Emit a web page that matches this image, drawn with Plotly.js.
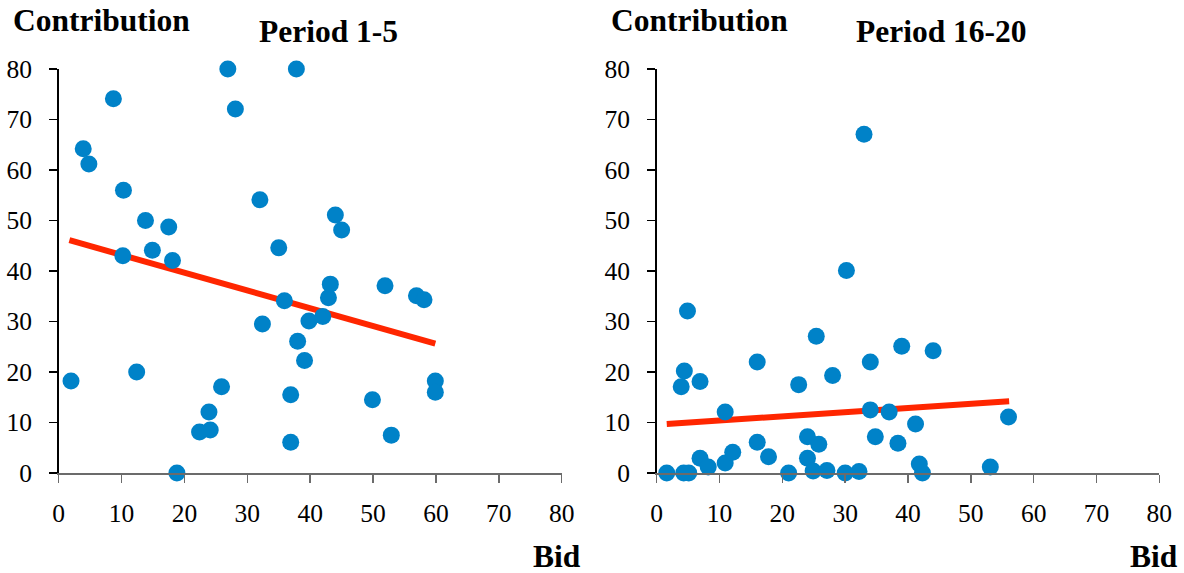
<!DOCTYPE html>
<html>
<head>
<meta charset="utf-8">
<script src="https://cdn.plot.ly/plotly-3.0.1.min.js"></script>
<style>
html,body{margin:0;padding:0;background:#fff;}
#chart{width:1184px;height:573px;}
</style>
</head>
<body>
<div id="chart"></div>
<script>
// Period 1-5 data (Bid, Contribution)
const bid1 = [1.96, 3.9, 4.8, 8.7, 10.3, 10.2, 12.4, 13.8, 14.9, 17.5, 18.1, 18.8, 22.4, 24.1, 23.9, 25.9, 26.9, 28.1, 32.0, 32.4,
              35.0, 35.9, 36.9, 36.9, 37.8, 38.0, 39.1, 39.8, 42.0, 42.9, 43.2, 44.0, 45.0, 49.9, 51.9, 52.9, 56.9, 58.1, 59.9, 59.9];
const contrib1 = [18.2, 64.2, 61.2, 74.1, 56.0, 43.0, 20.0, 50.0, 44.1, 48.7, 42.1, 0, 8.1, 8.5, 12.1, 17.1, 80, 72.1, 54.1, 29.5,
                  44.6, 34.1, 15.5, 6.1, 80, 26.1, 22.3, 30.1, 31.0, 34.7, 37.4, 51.1, 48.1, 14.5, 37.1, 7.5, 35.1, 34.3, 18.2, 16.0];
const fitBid1 = [1.7, 59.9];
const fitContrib1 = [46.1, 25.6];

// Period 16-20 data
const bid2 = [1.6, 3.9, 4.4, 4.3, 4.9, 5.1, 6.9, 6.9, 8.2, 10.9, 10.9, 12.1, 16.0, 16.0, 17.8, 21.0, 22.6, 24.0, 24.0, 24.9,
              25.4, 25.8, 27.1, 28.0, 30.0, 30.2, 32.2, 33.0, 34.0, 34.0, 34.8, 37.0, 38.4, 39.0, 41.2, 41.8, 42.3, 44.0, 53.1, 56.0];
const contrib2 = [0, 17.1, 20.2, 0, 32.1, 0, 18.1, 2.9, 1.2, 12.1, 2.0, 4.1, 22.0, 6.1, 3.2, 0, 17.5, 7.2, 2.9, 0.4,
                  27.1, 5.7, 0.5, 19.3, 0, 40.1, 0.3, 67.1, 22.0, 12.5, 7.2, 12.1, 5.9, 25.1, 9.7, 1.8, 0, 24.2, 1.2, 11.1];
const fitBid2 = [1.6, 56.1];
const fitContrib2 = [9.7, 14.2];

const panelTitles = ['Period 1-5', 'Period 16-20'];
const yTitle = 'Contribution';
const xTitle = 'Bid';
const tickVals = [0, 10, 20, 30, 40, 50, 60, 70, 80];
const tickText = ['0', '10', '20', '30', '40', '50', '60', '70', '80'];

const W = 1184, H = 573;
const FONT = 'Liberation Serif, Times New Roman, DejaVu Serif, serif';
const dotColor = '#0082C8';
const lineColor = '#FF2600';
const TITLE_SIZE = 31.5;
const TICK_SIZE = 25.5;

function px(x) { return x / W; }
function py(y) { return 1 - y / H; }

const traces = [
  {x: fitBid1, y: fitContrib1, xaxis: 'x', yaxis: 'y', mode: 'lines', type: 'scatter',
   line: {color: lineColor, width: 6}, cliponaxis: false, hoverinfo: 'skip'},
  {x: bid1, y: contrib1, xaxis: 'x', yaxis: 'y', mode: 'markers', type: 'scatter',
   marker: {color: dotColor, size: 17}, cliponaxis: false},
  {x: fitBid2, y: fitContrib2, xaxis: 'x2', yaxis: 'y2', mode: 'lines', type: 'scatter',
   line: {color: lineColor, width: 6}, cliponaxis: false, hoverinfo: 'skip'},
  {x: bid2, y: contrib2, xaxis: 'x2', yaxis: 'y2', mode: 'markers', type: 'scatter',
   marker: {color: dotColor, size: 17}, cliponaxis: false}
];

function xAxis(domain, anchor) {
  return {
    domain: domain, anchor: anchor, range: [0, 80], tickvals: tickVals, ticktext: tickText,
    showgrid: false, zeroline: false, showline: true, linecolor: '#6b6b6b', linewidth: 1.5,
    ticks: 'outside', ticklen: 8, tickwidth: 1.5, tickcolor: '#6b6b6b',
    ticklabelstandoff: 9,
    tickfont: {family: FONT, size: TICK_SIZE, color: '#000', weight: 'normal'}, fixedrange: true
  };
}
function yAxis(domain, anchor) {
  return {
    domain: domain, anchor: anchor, range: [0, 80], tickvals: tickVals, ticktext: tickText,
    showgrid: false, zeroline: false, showline: true, linecolor: '#000', linewidth: 1.5,
    ticks: 'outside', ticklen: 8, tickwidth: 1.5, tickcolor: '#000',
    ticklabelstandoff: 12,
    tickfont: {family: FONT, size: TICK_SIZE, color: '#000', weight: 'normal'}, fixedrange: true
  };
}

const yDom = [py(473), py(69)];
const titleFont = {family: FONT, size: TITLE_SIZE, color: '#000'};
const layout = {
  width: W, height: H,
  margin: {l: 0, r: 0, t: 0, b: 0},
  paper_bgcolor: '#fff', plot_bgcolor: 'rgba(0,0,0,0)',
  showlegend: false,
  font: {family: FONT, color: '#000'},
  xaxis: xAxis([px(58.7), px(561.7)], 'y'),
  yaxis: yAxis(yDom, 'x'),
  xaxis2: xAxis([px(656.7), px(1159.3)], 'y2'),
  yaxis2: yAxis(yDom, 'x2'),
  annotations: [
    {text: '<b>' + yTitle + '</b>', xref: 'paper', yref: 'paper', x: px(11), y: py(20), xanchor: 'left', yanchor: 'middle',
     showarrow: false, font: titleFont},
    {text: '<b>' + panelTitles[0] + '</b>', xref: 'paper', yref: 'paper', x: px(328.5), y: py(31), xanchor: 'center', yanchor: 'middle',
     showarrow: false, font: titleFont},
    {text: '<b>' + xTitle + '</b>', xref: 'paper', yref: 'paper', x: px(556.5), y: py(576), xanchor: 'center', yanchor: 'bottom',
     showarrow: false, font: titleFont},
    {text: '<b>' + yTitle + '</b>', xref: 'paper', yref: 'paper', x: px(608.5), y: py(20), xanchor: 'left', yanchor: 'middle',
     showarrow: false, font: titleFont},
    {text: '<b>' + panelTitles[1] + '</b>', xref: 'paper', yref: 'paper', x: px(941.3), y: py(31), xanchor: 'center', yanchor: 'middle',
     showarrow: false, font: titleFont},
    {text: '<b>' + xTitle + '</b>', xref: 'paper', yref: 'paper', x: px(1154), y: py(576), xanchor: 'center', yanchor: 'bottom',
     showarrow: false, font: titleFont}
  ]
};

Plotly.newPlot('chart', traces, layout, {staticPlot: true, displayModeBar: false});
</script>
</body>
</html>
